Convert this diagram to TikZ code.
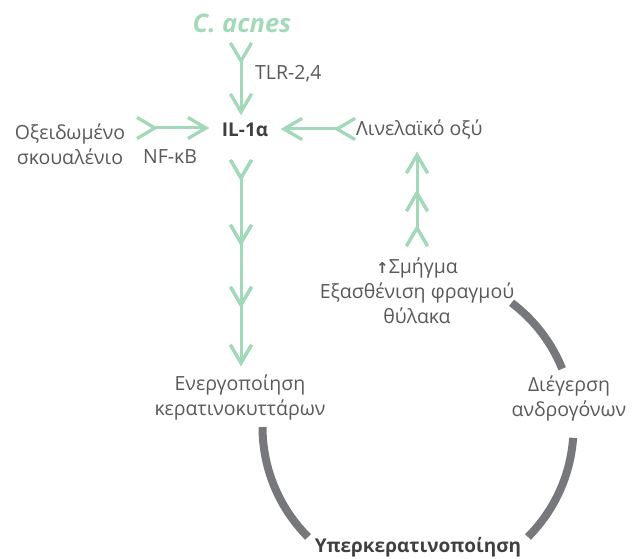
\documentclass[tikz,border=0pt]{standalone}
\usepackage{fontspec}
\setmainfont{Open Sans}
\newfontfamily\symfont{DejaVu Sans}
\usetikzlibrary{decorations.markings}
\definecolor{leaf}{HTML}{A3D9B8}
\definecolor{txt}{HTML}{58595B}
\definecolor{txtb}{HTML}{404041}
\definecolor{arcgrey}{HTML}{77787B}
\tikzset{
  gline/.style={draw=leaf, line width=3pt},
  chevshape/.style={draw=leaf, line width=3pt, line join=miter},
  chevat/.style={decoration={markings, mark=at position #1 with {\draw[chevshape] (-18pt,10.5pt) -- (0pt,0pt) -- (-18pt,-10.5pt);}}, postaction=decorate},
  lbl/.style={text=txt, font=\fontsize{19.5}{25}\selectfont, align=center, inner sep=0pt},
  lblb/.style={text=txtb, font=\bfseries\fontsize{19}{25}\selectfont, align=center, inner sep=0pt},
  cyc/.style={draw=arcgrey, line width=8pt}
}
\begin{document}
\begin{tikzpicture}[x=1pt, y=-1pt]
\useasboundingbox (0,0) rectangle (640,559);
% labels
\node[text=leaf, font=\bfseries\itshape\fontsize{25.5}{28}\selectfont, inner sep=0pt] (cac) at (242,23) {C. acnes};
\node[lbl, anchor=west] (tlr) at (255,74) {TLR-2,4};
\node[lblb] (il) at (245,130) {IL-1α};
\node[lbl] (ox) at (70,144) {Οξειδωμένο\\σκουαλένιο};
\node[lbl] (nf) at (170,157) {NF-κB};
\node[lbl, anchor=west] (lin) at (356,130) {Λινελαϊκό οξύ};
\node[lbl] (seb) at (417,291) {{\symfont\bfseries\fontsize{15}{25}\selectfont ↑}Σμήγμα\\Εξασθένιση φραγμού\\θύλακα};
\node[lbl] (ker) at (240,397) {Ενεργοποίηση\\κερατινοκυττάρων};
\node[lbl] (andr) at (569,398) {Διέγερση\\ανδρογόνων};
\node[lblb] (hyp) at (418,547) {Υπερκερατινοποίηση};
% arrow end points
\coordinate (t0) at (241,61);  \coordinate (t1) at (241,112);
\coordinate (l0) at (155,128); \coordinate (l1) at (206,128);
\coordinate (r0) at (337,129); \coordinate (r1) at (284,129);
\coordinate (d0) at (241,178); \coordinate (d1) at (241,363);
\coordinate (u0) at (417,228); \coordinate (u1) at (417,155);
% green arrows
\draw[gline, chevat=0, chevat=0.9999] (t0) -- (t1);
\draw[gline, chevat=0, chevat=0.9999] (l0) -- (l1);
\draw[gline, chevat=0, chevat=0.9999] (r0) -- (r1);
\draw[gline, chevat=0, chevat=0.351, chevat=0.686, chevat=0.9999] (d0) -- (d1);
\draw[gline, chevat=0, chevat=0.479, chevat=0.9999] (u0) -- (u1);
% grey cycle arcs, circle centre (418,427), r 155.5
\coordinate (cc) at (418,427);
\draw[cyc] (cc) ++(180:155.5 and -155.5) arc[start angle=180, end angle=225, x radius=155.5, y radius=-155.5];
\draw[cyc] (cc) ++(-45:155.5 and -155.5) arc[start angle=-45, end angle=-4, x radius=155.5, y radius=-155.5];
\draw[cyc] (cc) ++(22:155.5 and -155.5) arc[start angle=22, end angle=53, x radius=155.5, y radius=-155.5];
\end{tikzpicture}
\end{document}
